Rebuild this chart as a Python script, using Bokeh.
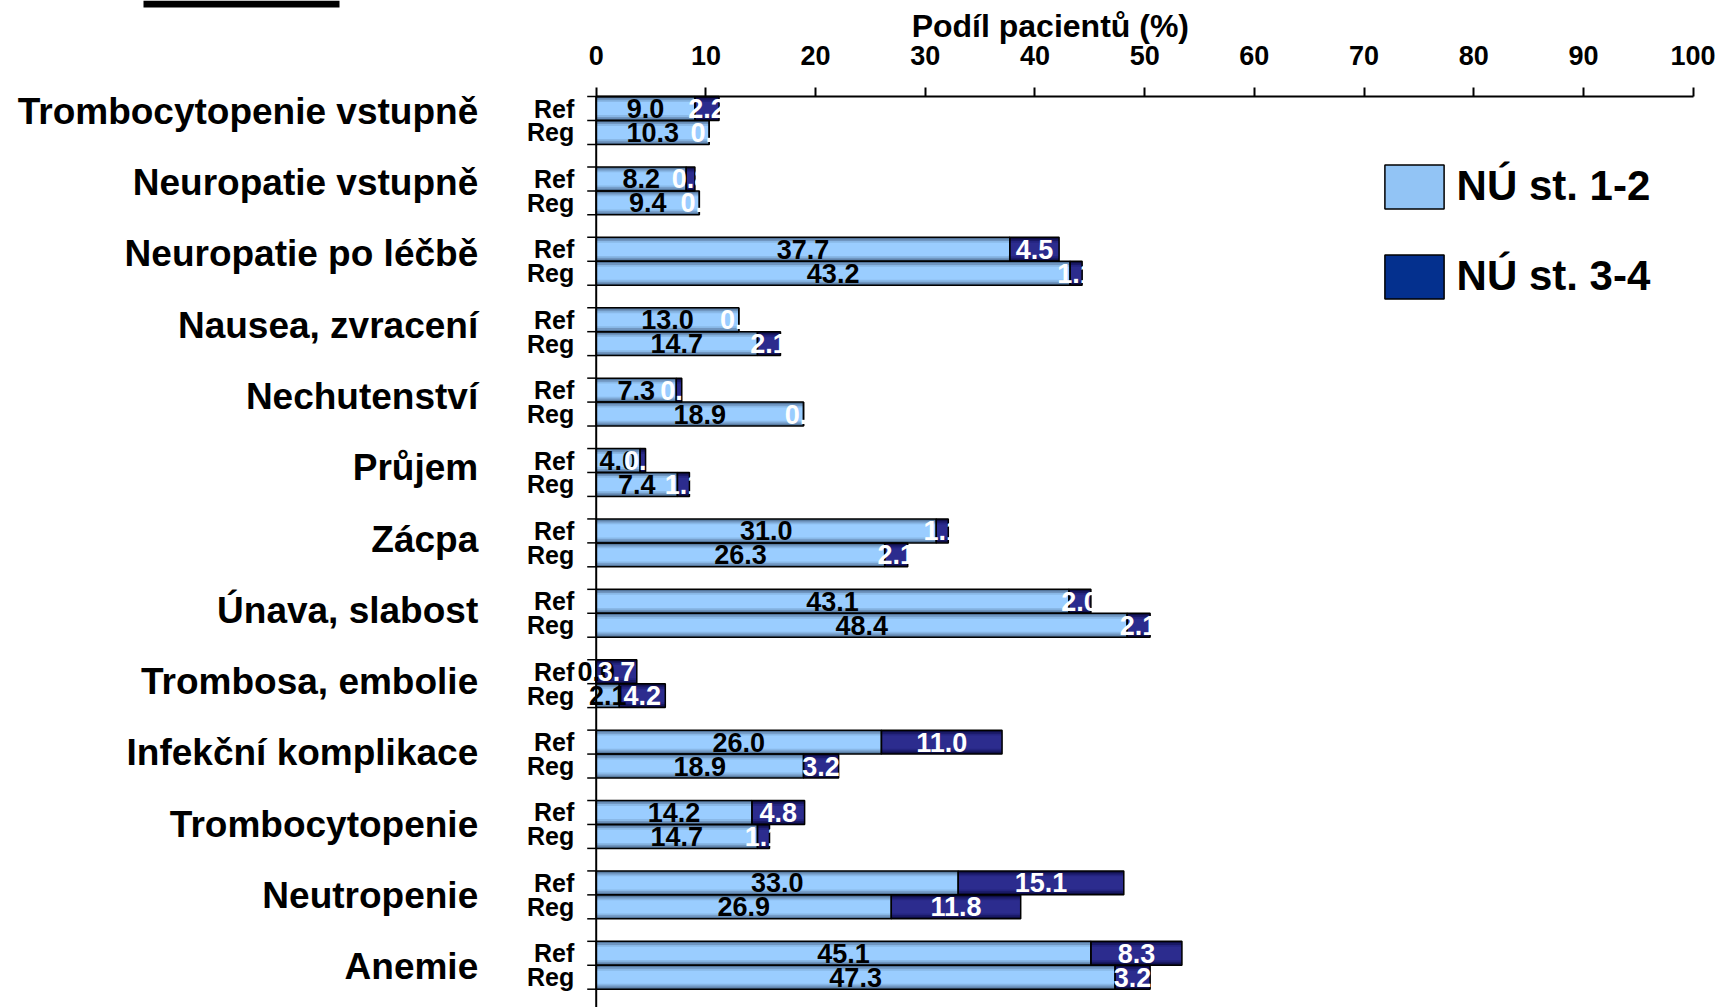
import numpy as np
from bokeh.plotting import figure
from bokeh.models import (ColumnDataSource, Range1d, LinearAxis, FixedTicker,
                          Legend, LegendItem, BoxAnnotation)
from bokeh.core.properties import value
from bokeh.embed import file_html
from bokeh.resources import INLINE

# ---------------- data ----------------
groups = ["Trombocytopenie vstupně", "Neuropatie vstupně", "Neuropatie po léčbě",
          "Nausea, zvracení", "Nechutenství", "Průjem", "Zácpa", "Únava, slabost",
          "Trombosa, embolie", "Infekční komplikace", "Trombocytopenie", "Neutropenie",
          "Anemie"]
row_labels = ["Ref", "Reg"]
ref_grade12 = [9.0, 8.2, 37.7, 13.0, 7.3, 4.0, 31.0, 43.1, 0.0, 26.0, 14.2, 33.0, 45.1]
ref_grade34 = [2.2, 0.8, 4.5, 0.0, 0.5, 0.5, 1.1, 2.0, 3.7, 11.0, 4.8, 15.1, 8.3]
reg_grade12 = [10.3, 9.4, 43.2, 14.7, 18.9, 7.4, 26.3, 48.4, 2.1, 18.9, 14.7, 26.9, 47.3]
reg_grade34 = [0.0, 0.0, 1.1, 2.1, 0.0, 1.1, 2.1, 2.1, 4.2, 3.2, 1.1, 11.8, 3.2]
x_ticks = [0, 10, 20, 30, 40, 50, 60, 70, 80, 90, 100]
axis_title = "Podíl pacientů (%)"
legend_labels = ["NÚ st. 1-2", "NÚ st. 3-4"]

# ---------------- styling / layout ----------------
FONT = "Liberation Sans"
BAR_H = 0.34
LIGHT_LAYERS = [(1.0, "#52749A"), (0.85, "#7096C0"), (0.7, "#89B8E7"), (0.55, "#9ACDFF")]
DARK_LAYERS = [(1.0, "#0C0C40"), (0.85, "#191964"), (0.7, "#242480"), (0.55, "#2C2C8E")]
LEGEND_LIGHT = "#92C4F5"
LEGEND_DARK = "#04308E"

n = len(groups)
idx = np.arange(n)
y_ref = -idx + BAR_H / 2
y_reg = -idx - BAR_H / 2

g12 = np.array(ref_grade12 + reg_grade12)
g34 = np.array(ref_grade34 + reg_grade34)
yy = np.concatenate([y_ref, y_reg])
src = ColumnDataSource(dict(
    y=yy,
    zero=np.zeros(2 * n),
    end12=g12,
    end34=g12 + g34,
    c12=g12 / 2,
    c34=g12 + g34 / 2,
    t12=[f"{v:.1f}" for v in g12],
    t34=[f"{v:.1f}" for v in g34],
    row=[row_labels[0]] * n + [row_labels[1]] * n,
))

p = figure(width=1720, height=1007, output_backend="svg", toolbar_location=None,
           x_range=Range1d(-54.31, 102.50), y_range=Range1d(-12.60, 1.7045),
           x_axis_location=None, y_axis_location=None,
           min_border_left=0, min_border_right=0, min_border_bottom=0, min_border_top=0)
p.outline_line_color = None
p.grid.visible = False
p.background_fill_color = "white"

# bars with a simulated vertical gradient
for frac, col in LIGHT_LAYERS:
    p.hbar(y="y", left="zero", right="end12", height=BAR_H * frac,
           fill_color=col, line_color=None, source=src)
for frac, col in DARK_LAYERS:
    p.hbar(y="y", left="end12", right="end34", height=BAR_H * frac,
           fill_color=col, line_color=None, source=src)
light_out = p.hbar(y="y", left="zero", right="end12", height=BAR_H, fill_color=None,
                   line_color="black", line_width=1.5, source=src)
dark_out = p.hbar(y="y", left="end12", right="end34", height=BAR_H, fill_color=None,
                  line_color="black", line_width=1.5, source=src)

# zero-height layers: invisible on the plot, they only give the legend its swatch colour
leg_light = p.hbar(y="y", left="zero", right="end12", height=0, fill_color=LEGEND_LIGHT,
                   line_color=None, source=src)
leg_dark = p.hbar(y="y", left="end12", right="end34", height=0, fill_color=LEGEND_DARK,
                  line_color=None, source=src)

# value labels
p.text(x="c12", y="y", text="t12", source=src, text_align="center", text_baseline="middle",
       text_font=value(FONT), text_font_style="bold", text_font_size="27px",
       text_color="black")
p.text(x="c34", y="y", text="t34", source=src, text_align="center", text_baseline="middle",
       text_font=value(FONT), text_font_style="bold", text_font_size="27px",
       text_color="white")

# vertical axis line (from the top axis downward) + category ticks
p.ray(x=[0], y=[BAR_H], length=0, angle=-np.pi / 2, line_color="black", line_width=2)
tick_y = np.concatenate([-idx + BAR_H, -idx, -idx - BAR_H])
p.ray(x=np.zeros(len(tick_y)), y=tick_y, length=9, length_units="screen", angle=np.pi,
      line_color="black", line_width=1.5)

# Ref / Reg labels
p.text(x="zero", y="y", text="row", source=src, x_offset=-22, text_align="right",
       text_baseline="middle", text_font=value(FONT), text_font_style="bold",
       text_font_size="25px", text_color="black")

# group labels
lab_src = ColumnDataSource(dict(x=np.zeros(n), y=0.131 - idx * 1.0128, t=groups))
p.text(x="x", y="y", text="t", source=lab_src, x_offset=-118, text_align="right",
       text_baseline="middle", text_font=value(FONT), text_font_style="bold",
       text_font_size="37px", text_color="black")

# top axis, drawn at the top edge of the first bar
ax = LinearAxis(ticker=FixedTicker(ticks=x_ticks), bounds=(0, 100), fixed_location=BAR_H)
ax.axis_line_width = 2
ax.axis_line_color = "black"
ax.major_tick_line_width = 2
ax.major_tick_out = 9
ax.major_tick_in = 0
ax.minor_tick_line_color = None
ax.major_label_standoff = 23
ax.major_label_text_font = FONT
ax.major_label_text_font_style = "bold"
ax.major_label_text_font_size = "27px"
ax.major_label_text_color = "black"
p.add_layout(ax, "above")

# axis title
p.text(x=[41.4], y=[1.349], text=[axis_title], text_align="center", text_baseline="middle",
       text_font=value(FONT), text_font_style="bold", text_font_size="32px",
       text_color="black")

# legend
legend = Legend(items=[LegendItem(label=legend_labels[0], renderers=[leg_light, light_out]),
                       LegendItem(label=legend_labels[1], renderers=[leg_dark, dark_out])],
                location=(1376.6, 703.5), glyph_width=74, glyph_height=55,
                label_standoff=6, spacing=35, padding=0, margin=0,
                border_line_color=None, background_fill_alpha=0,
                label_text_font=FONT, label_text_font_style="bold",
                label_text_font_size="42px", label_text_color="black")
p.add_layout(legend)

# black bar at the top-left corner
p.add_layout(BoxAnnotation(left=143, right=339, top=0, bottom=7,
                           left_units="canvas", right_units="canvas",
                           top_units="canvas", bottom_units="canvas",
                           fill_color="black", fill_alpha=1, line_color=None))

open("out.html", "w").write(file_html(p, INLINE))
